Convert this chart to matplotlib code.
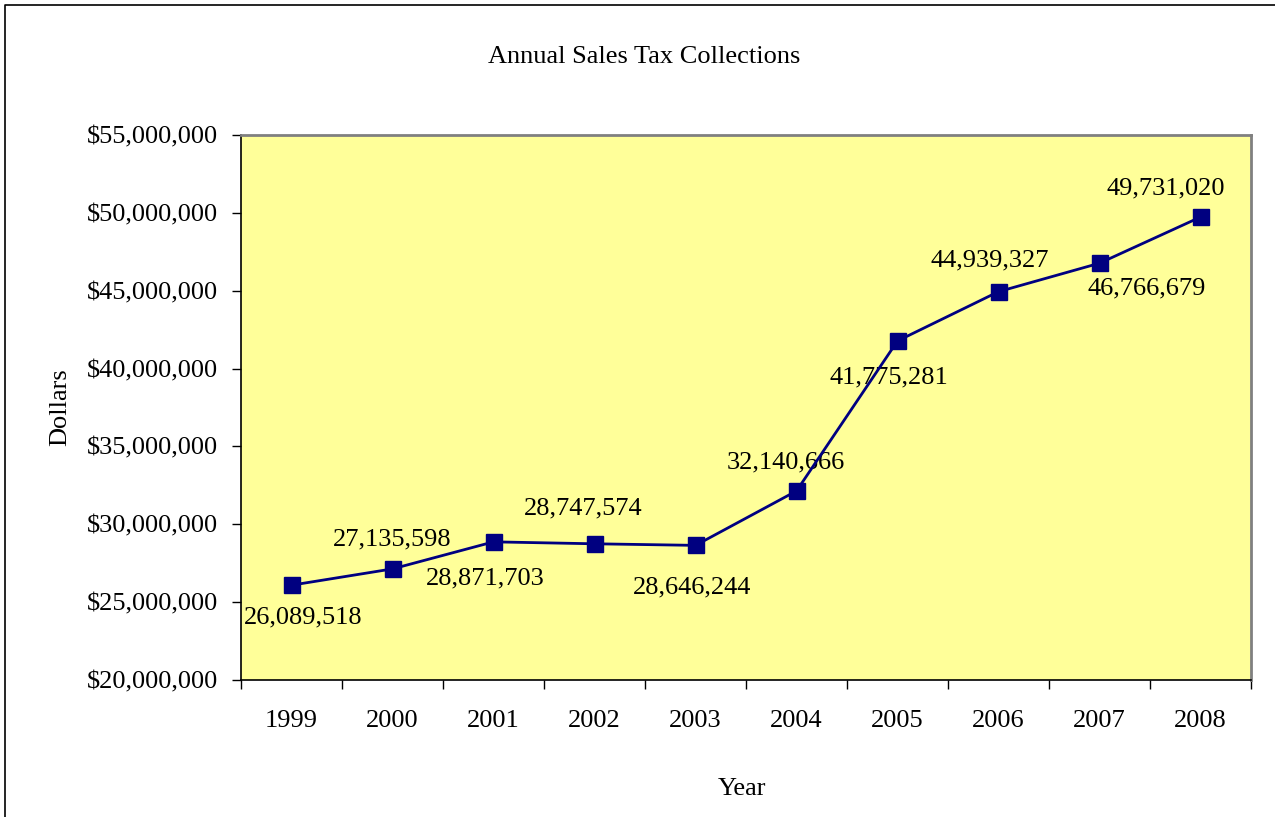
import matplotlib.pyplot as plt
from matplotlib.lines import Line2D
from matplotlib.ticker import FuncFormatter
import numpy as np

# Annual sales tax collections
years = ["1999", "2000", "2001", "2002", "2003", "2004", "2005", "2006", "2007", "2008"]
collections = [26089518, 27135598, 28871703, 28747574, 28646244,
               32140666, 41775281, 44939327, 46766679, 49731020]
y_ticks = [20000000, 25000000, 30000000, 35000000, 40000000, 45000000, 50000000, 55000000]

# where each value label sits relative to its marker (pixels, baseline)
label_offsets = [(12, -38), (0, 23), (-8, -43), (-11, 29), (-3, -48),
                 (-11, 22), (-9, -43), (-9, 25), (47, -31), (-35, 23)]

plt.rcParams["font.family"] = ["Liberation Serif", "DejaVu Serif"]
FS = 19
NAVY = "#000080"

fig = plt.figure(figsize=(12.75, 8.17), dpi=100)
ax = fig.add_axes([241 / 1275, 1 - 680 / 817, 1010 / 1275, 545 / 817])
ax.set_facecolor("#FFFF99")

x = np.arange(len(years))
ax.plot(x, collections, color=NAVY, lw=2.0, marker="s", markersize=11,
        markerfacecolor=NAVY, markeredgecolor=NAVY, zorder=3)

for xi, val, (dx, dy) in zip(x, collections, label_offsets):
    ax.annotate(f"{val:,}", (xi, val), xytext=(dx, dy), textcoords="offset pixels",
                ha="center", va="baseline", fontsize=FS, color="black", zorder=2)

ax.set_xlim(-0.5, len(years) - 0.5)
ax.set_ylim(y_ticks[0], y_ticks[-1])
ax.set_xticks(x)
ax.set_xticklabels(years)
ax.set_xticks(np.arange(-0.5, len(years)), minor=True)
ax.tick_params(axis="x", which="major", length=0, pad=21.5, labelsize=FS)
ax.tick_params(axis="x", which="minor", length=6.5, width=1, direction="out")
ax.set_yticks(y_ticks)
ax.yaxis.set_major_formatter(FuncFormatter(lambda v, p: f"${v:,.0f}"))
ax.tick_params(axis="y", length=6.5, width=1, direction="out", pad=10, labelsize=FS)

for side in ["left", "bottom"]:
    ax.spines[side].set_color("black")
    ax.spines[side].set_linewidth(1.2)
for side in ["top", "right"]:
    ax.spines[side].set_color("#808080")
    ax.spines[side].set_linewidth(2.0)

fig.text(644 / 1275, 1 - 63 / 817, "Annual Sales Tax Collections",
         ha="center", va="baseline", fontsize=FS)
fig.text(742 / 1275, 1 - 795 / 817, "Year", ha="center", va="baseline", fontsize=FS)
fig.text(60 / 1275, 1 - 407 / 817, "Dollars", ha="center", va="center",
         rotation=90, fontsize=FS)

# outer chart border (only left and top edges visible in the crop)
fig.add_artist(Line2D([5 / 1275, 5 / 1275, 1.0], [0.0, 1 - 5 / 817, 1 - 5 / 817],
                      transform=fig.transFigure, color="black", lw=1.2))

fig.savefig("out.png", dpi=100)
